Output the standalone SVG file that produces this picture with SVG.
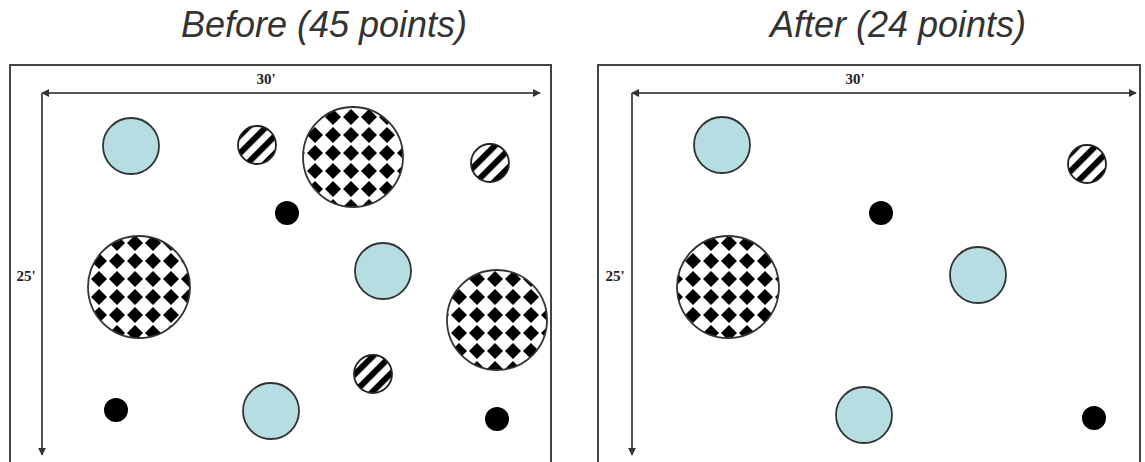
<svg xmlns="http://www.w3.org/2000/svg" width="1145" height="462" viewBox="0 0 1145 462">
<style>
.title{font-family:"Liberation Sans",Arial,sans-serif;font-style:italic;font-size:36px;fill:#333;text-anchor:middle}
.dim{font-family:"Liberation Serif","Times New Roman",serif;font-weight:bold;font-size:15px;fill:#222;text-anchor:middle}
.frame{fill:#fff;stroke:#444;stroke-width:2}
.arrow{fill:none;stroke:#555;stroke-width:2}
.blue{fill:#b6dee2;stroke:#333;stroke-width:1.8}
.check{fill:url(#checker);stroke:#333;stroke-width:1.8}
.stripe{fill:url(#stripes);stroke:#222;stroke-width:1.8}
.dot{fill:#000}
</style>
<defs>
<pattern id="checker" patternUnits="userSpaceOnUse" width="18" height="18">
<rect width="18" height="18" fill="#fff"/>
<polygon points="9,1 17,9 9,17 1,9" fill="#000"/>
</pattern>
<pattern id="stripes" patternUnits="userSpaceOnUse" width="12.5" height="12.5" patternTransform="rotate(45)">
<rect width="12.5" height="12.5" fill="#fff"/>
<rect width="6" height="12.5" fill="#000"/>
</pattern>
<marker id="ah" viewBox="0 0 10 10" refX="9" refY="5" markerWidth="4" markerHeight="4" orient="auto-start-reverse">
<path d="M0,0 L10,5 L0,10 z" fill="#333"/>
</marker>
</defs>
<rect width="1145" height="462" fill="#fff"/>
<text class="title" x="324" y="37">Before (45 points)</text>
<text class="title" x="898" y="37">After (24 points)</text>

<g id="before-panel">
<rect class="frame" x="10" y="65" width="541" height="410"/>
<g id="before-connectors">
<line class="arrow" x1="42" y1="93" x2="540" y2="93" marker-start="url(#ah)" marker-end="url(#ah)"/>
<line class="arrow" x1="42" y1="93" x2="42" y2="455" marker-end="url(#ah)"/>
</g>
<text class="dim" x="266" y="84">30'</text>
<text class="dim" x="26" y="281">25'</text>
<g id="b-blue1"><circle class="blue" cx="131" cy="146" r="28"/></g>
<g id="b-stripe1"><circle class="stripe" cx="257" cy="145" r="19"/></g>
<g id="b-check1"><circle class="check" cx="353" cy="157" r="50"/></g>
<g id="b-dot1"><circle class="dot" cx="287" cy="213" r="12"/></g>
<g id="b-stripe2"><circle class="stripe" cx="490" cy="163" r="19"/></g>
<g id="b-check2"><circle class="check" cx="139" cy="287" r="51"/></g>
<g id="b-blue2"><circle class="blue" cx="383" cy="271" r="28"/></g>
<g id="b-check3"><circle class="check" cx="497" cy="320" r="50"/></g>
<g id="b-stripe3"><circle class="stripe" cx="373" cy="374" r="19"/></g>
<g id="b-dot2"><circle class="dot" cx="116" cy="410" r="12"/></g>
<g id="b-blue3"><circle class="blue" cx="271" cy="411" r="28"/></g>
<g id="b-dot3"><circle class="dot" cx="497" cy="419" r="12"/></g>
</g>

<g id="after-panel">
<rect class="frame" x="598" y="65" width="542" height="410"/>
<g id="after-connectors">
<line class="arrow" x1="632" y1="93" x2="1136" y2="93" marker-start="url(#ah)" marker-end="url(#ah)"/>
<line class="arrow" x1="632" y1="93" x2="632" y2="455" marker-end="url(#ah)"/>
</g>
<text class="dim" x="855" y="84">30'</text>
<text class="dim" x="615" y="281">25'</text>
<g id="a-blue1"><circle class="blue" cx="722" cy="145" r="28"/></g>
<g id="a-stripe1"><circle class="stripe" cx="1087" cy="164" r="19"/></g>
<g id="a-dot1"><circle class="dot" cx="881" cy="213" r="12"/></g>
<g id="a-check1"><circle class="check" cx="728" cy="287" r="51"/></g>
<g id="a-blue2"><circle class="blue" cx="978" cy="275" r="28"/></g>
<g id="a-blue3"><circle class="blue" cx="864" cy="415" r="28"/></g>
<g id="a-dot2"><circle class="dot" cx="1094" cy="418" r="12"/></g>
</g>
</svg>
